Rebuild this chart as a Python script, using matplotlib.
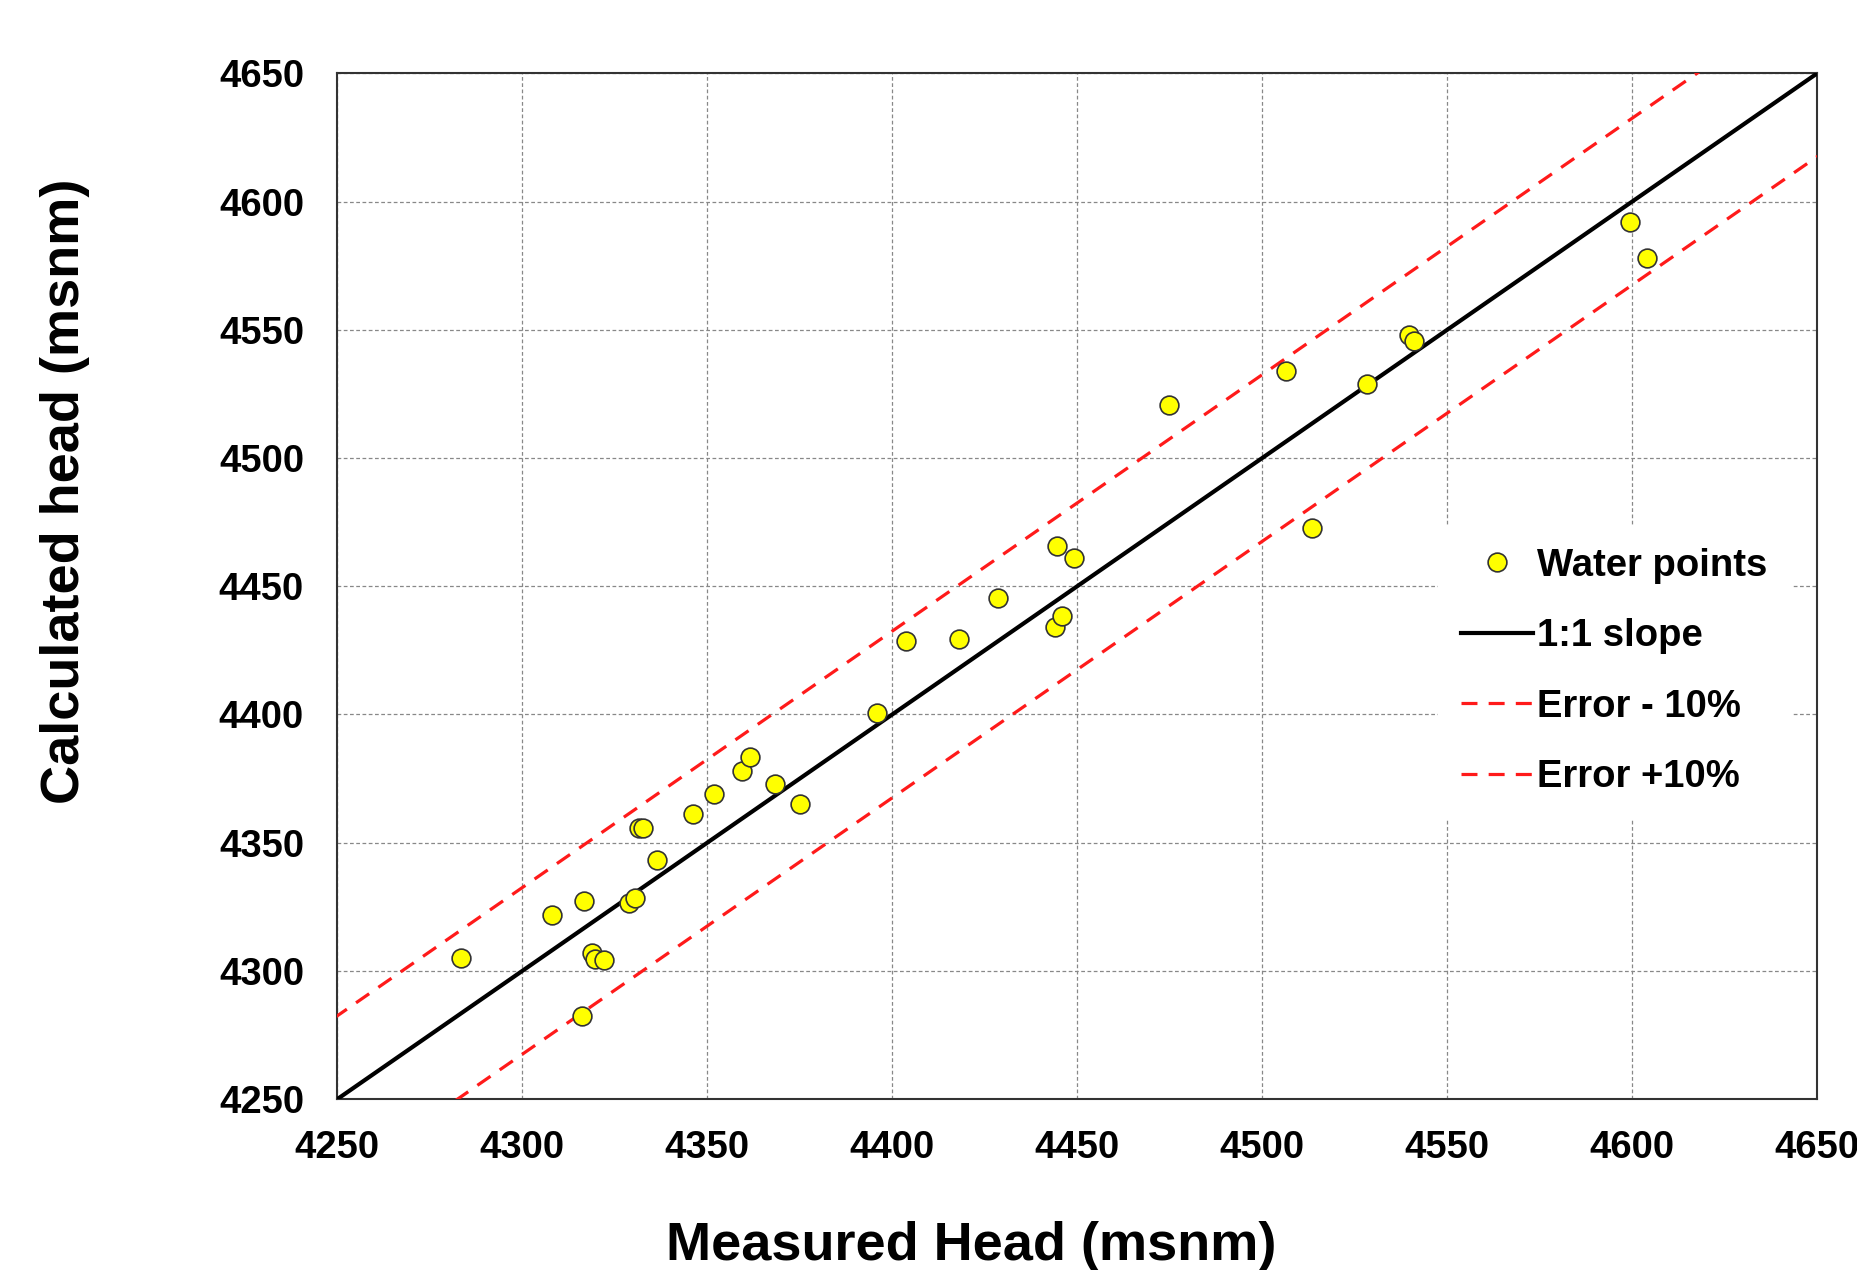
import numpy as np
import matplotlib
matplotlib.use("Agg")
import matplotlib.pyplot as plt

plt.rcParams['font.family'] = ['Liberation Sans', 'DejaVu Sans']
plt.rcParams['font.weight'] = 'bold'

# measured vs calculated head (msnm)
measured = [4283.4, 4307.9, 4316.6, 4316.2, 4318.9, 4319.6, 4322.0, 4328.8,
            4330.4, 4331.6, 4332.7, 4336.5, 4346.2, 4351.8, 4359.4, 4361.5,
            4368.2, 4375.0, 4395.9, 4403.7, 4417.9, 4428.7, 4444.0, 4445.9,
            4444.5, 4449.1, 4474.8, 4506.4, 4513.5, 4528.2, 4539.8, 4541.1,
            4599.4, 4603.9]
calculated = [4305.1, 4321.8, 4327.3, 4282.5, 4307.1, 4304.5, 4304.2, 4326.3,
              4328.3, 4355.6, 4355.6, 4343.2, 4361.2, 4369.0, 4378.0, 4383.3,
              4372.9, 4365.0, 4400.4, 4428.6, 4429.4, 4445.3, 4434.2, 4438.4,
              4465.8, 4460.9, 4520.7, 4534.1, 4472.7, 4528.7, 4548.0, 4545.6,
              4592.2, 4578.1]

axis_min, axis_max = 4250, 4650
error_offset = 32.5
ticks = list(range(4250, 4651, 50))

fig = plt.figure(figsize=(18.57, 12.70), dpi=100)
ax = fig.add_axes([0.1817, 0.1346, 0.7968, 0.8076])

line_x = np.array([axis_min - 100, axis_max + 100])
ax.plot(line_x, line_x, color='black', lw=3.0, label='1:1 slope', zorder=3)
ax.plot(line_x, line_x - error_offset, color='#ff1a1a', lw=2.3,
        dashes=(5, 3.5), label='Error - 10%', zorder=3)
ax.plot(line_x, line_x + error_offset, color='#ff1a1a', lw=2.3,
        dashes=(5, 3.5), label='Error +10%', zorder=3)
ax.plot(measured, calculated, 'o', ms=13.5, mfc='#ffff00', mec='#333333',
        mew=1.2, label='Water points', zorder=4, linestyle='none')

ax.set_xlim(axis_min, axis_max)
ax.set_ylim(axis_min, axis_max)
ax.set_xticks(ticks)
ax.set_yticks(ticks)
ax.tick_params(length=0, labelsize=27.5)
ax.tick_params(axis='x', pad=22)
ax.tick_params(axis='y', pad=24)
for lbl in ax.get_xticklabels() + ax.get_yticklabels():
    lbl.set_fontweight('bold')
ax.grid(True, color='#888888', lw=0.9, dashes=(3, 2))
ax.set_axisbelow(True)
for sp in ax.spines.values():
    sp.set_linewidth(1.5)
    sp.set_color('#333333')

# axis titles are placed off-centre in the original
fig.text(971 / 1857, 1 - 1246 / 1270, 'Measured Head (msnm)', fontsize=39,
         fontweight='bold', ha='center', va='center')
fig.text(65 / 1857, 1 - 491 / 1270, 'Calculated head (msnm)', fontsize=39,
         fontweight='bold', ha='center', va='center', rotation=90)

handles, labels = ax.get_legend_handles_labels()
order = [3, 0, 1, 2]
leg = ax.legend([handles[i] for i in order], [labels[i] for i in order],
                loc='center right', bbox_to_anchor=(0.995, 0.417),
                frameon=True, fancybox=False, edgecolor='white', framealpha=1,
                prop={'weight': 'bold', 'size': 27.5},
                handlelength=1.9, handletextpad=0.1, labelspacing=0.9,
                numpoints=1, markerscale=1.0, borderpad=0.6)

fig.savefig('out.png', dpi=100)
